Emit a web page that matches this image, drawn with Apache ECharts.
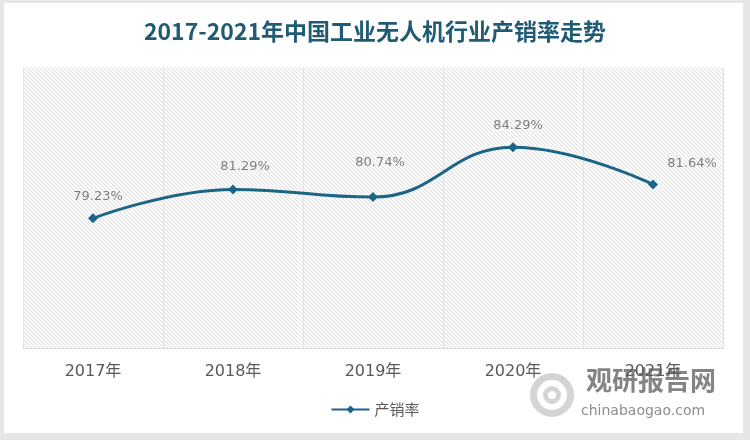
<!DOCTYPE html>
<html>
<head>
<meta charset="utf-8">
<script src="https://cdn.jsdelivr.net/npm/echarts@6/dist/echarts.min.js"></script>
<style>
html,body{margin:0;padding:0;background:#e6e6e6;}
#card{position:absolute;left:4px;top:3px;width:739px;height:430px;background:#fff;}
#chart{position:absolute;left:0;top:0;width:750px;height:440px;}
</style>
</head>
<body>
<div id="card"></div>
<div id="chart"></div>
<script>
const titleText = '2017-2021年中国工业无人机行业产销率走势';
const categories = ['2017年', '2018年', '2019年', '2020年', '2021年'];
const seriesName = '产销率';
const values = [79.23, 81.29, 80.74, 84.29, 81.64];

// hatch pattern
const pc = document.createElement('canvas');
pc.width = 4; pc.height = 4;
const g = pc.getContext('2d');
g.fillStyle = '#ffffff'; g.fillRect(0,0,4,4);
for (let i = 0; i < 4; i++) {
  g.fillStyle = '#e0e0e0'; g.fillRect(i, i, 1, 1);
  g.fillStyle = '#f3f3f3'; g.fillRect(i, (i + 1) % 4, 1, 1);
}

const labelOffsets = [[5,-5],[12,-6],[7,-18],[5,-5],[39,-4]];
const lineColor = '#1d6586';

const chart = echarts.init(document.getElementById('chart'), null, {renderer: 'canvas'});
chart.setOption({
  animation: false,
  backgroundColor: 'transparent',
  title: {
    text: titleText,
    left: 'center',
    top: 15,
    textStyle: {color: '#1f5b75', fontSize: 23, fontWeight: 'bold', fontFamily: '"Noto Sans CJK SC", sans-serif'}
  },
  grid: {
    left: 23, right: 27, top: 67, bottom: 92,
    show: true,
    backgroundColor: {image: pc, repeat: 'repeat'},
    borderWidth: 0
  },
  legend: {
    bottom: 18,
    left: 'center',
    itemWidth: 38,
    itemHeight: 10,
    itemGap: 4,
    data: [seriesName],
    textStyle: {color: '#595959', fontSize: 15, fontFamily: '"Noto Sans CJK SC", sans-serif'}
  },
  xAxis: {
    type: 'category',
    data: categories,
    boundaryGap: true,
    axisLine: {show: true, lineStyle: {color: '#d9d9d9', width: 1}},
    axisTick: {show: false},
    splitLine: {show: true, lineStyle: {color: '#e3e3e3', width: 1}},
    axisLabel: {color: '#595959', fontSize: 16, margin: 16, fontFamily: '"DejaVu Sans", "Noto Sans CJK SC", sans-serif'}
  },
  yAxis: {
    type: 'value',
    min: 70, max: 90, interval: 5,
    show: false,
    splitLine: {show: false}
  },
  series: [{
    name: seriesName,
    type: 'line',
    smooth: 0.45,
    data: values.map((v, i) => ({
      value: v,
      label: {offset: labelOffsets[i]}
    })),
    symbol: 'diamond',
    symbolSize: 10,
    lineStyle: {color: lineColor, width: 3},
    itemStyle: {color: lineColor},
    label: {
      show: true,
      position: 'top',
      color: '#7f7f7f',
      fontSize: 13,
      fontFamily: '"DejaVu Sans", sans-serif',
      formatter: p => p.value.toFixed(2) + '%'
    }
  }],
  graphic: [
    {
      type: 'group', z: 100,
      children: [
        {type: 'ring', shape: {cx: 552, cy: 395, r: 22, r0: 15}, style: {fill: 'rgba(170,170,170,0.5)'}},
        {type: 'ring', shape: {cx: 552, cy: 395, r: 9, r0: 4}, style: {fill: 'rgba(170,170,170,0.5)'}},
        {type: 'text', left: 586, top: 367, style: {text: '观研报告网', fill: 'rgba(110,110,110,0.85)', font: 'bold 26px "Noto Sans CJK SC", sans-serif'}},
        {type: 'text', left: 581, top: 404, style: {text: 'chinabaogao.com', fill: 'rgba(120,120,120,0.85)', font: '14px "DejaVu Sans", sans-serif'}}
      ]
    }
  ]
});
</script>
</body>
</html>
